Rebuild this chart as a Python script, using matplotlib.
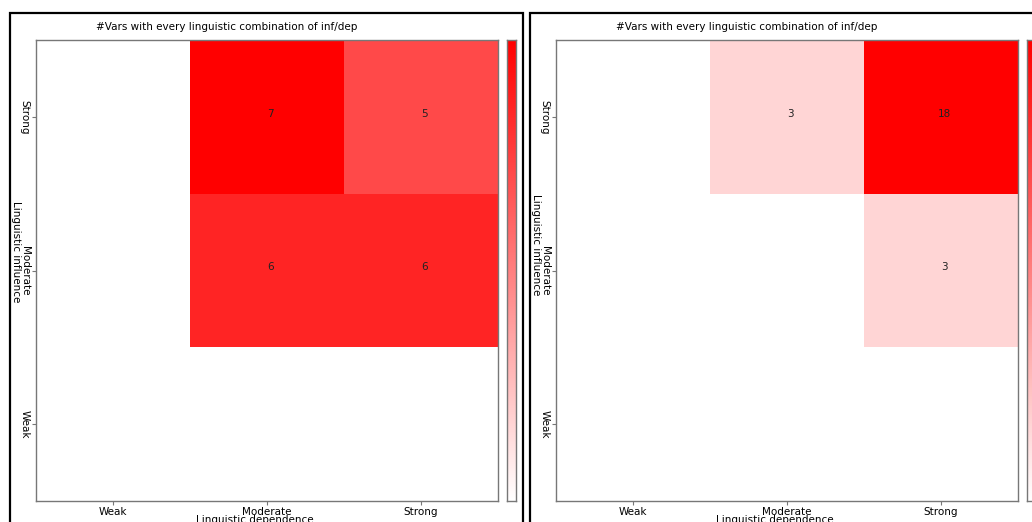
import numpy as np
import matplotlib
matplotlib.use("Agg")
import matplotlib.pyplot as plt
from matplotlib.colors import LinearSegmentedColormap
from matplotlib.patches import Rectangle

levels = ["Weak", "Moderate", "Strong"]
title = "#Vars with every linguistic combination of inf/dep"

# rows: influence Strong, Moderate, Weak ; cols: dependence Weak, Moderate, Strong
counts_a = [[0, 7, 5],
            [0, 6, 6],
            [0, 0, 0]]
counts_b = [[0, 3, 18],
            [0, 0, 3],
            [0, 0, 0]]

W, H = 1032, 522
fig = plt.figure(figsize=(W / 100, H / 100), dpi=100)
cmap = LinearSegmentedColormap.from_list("wr", ["#ffffff", "#ff0000"])
fs = 7.5
grey = "#777777"


def px(x, y, w, h):
    return [x / W, 1 - (y + h) / H, w / W, h / H]


def panel(x0, counts, ylab_y):
    data = np.array(counts, dtype=float)
    vmax = data.max()
    ax = fig.add_axes(px(x0, 40, 462, 461))
    # flip so Strong influence is on top
    ax.pcolormesh(np.arange(4), np.arange(4), data[::-1], cmap=cmap, vmin=0, vmax=vmax)
    for i in range(3):
        for j in range(3):
            v = counts[i][j]
            if v:
                ax.text(j + 0.52, 2.52 - i, str(v), ha="center", va="center",
                        fontsize=fs, color="#222222")
    ax.set_xlim(0, 3)
    ax.set_ylim(0, 3)
    ax.set_xticks(np.arange(3) + 0.5)
    ax.set_xticklabels(levels, fontsize=fs)
    ax.set_yticks(np.arange(3) + 0.5)
    ax.set_yticklabels(levels, fontsize=fs, rotation=-90, va="center")
    ax.tick_params(length=3, width=0.8, color=grey, pad=1)
    ax.tick_params(axis="y", pad=1.5)
    for s in ax.spines.values():
        s.set_color(grey)
        s.set_linewidth(1)

    cax = fig.add_axes(px(x0 + 471, 40, 9, 461))
    grad = np.linspace(0, 1, 256).reshape(-1, 1)
    cax.imshow(grad, cmap=cmap, aspect="auto", origin="lower", extent=[0, 1, 0, 1])
    cax.set_xticks([])
    cax.set_yticks([])
    for s in cax.spines.values():
        s.set_color(grey)
        s.set_linewidth(1)

    fig.text((x0 + 191) / W, 1 - 27 / H, title, ha="center", va="center", fontsize=fs)
    fig.text((x0 + 219) / W, 1 - 520 / H, "Linguistic dependence", ha="center",
             va="center", fontsize=fs)
    fig.text((x0 - 20) / W, 1 - ylab_y / H, "Linguistic influence", ha="center",
             va="center", rotation=-90, fontsize=fs)


panel(36, counts_a, 252)
panel(556, counts_b, 245)

# frames around each panel
for fx in (10, 530):
    fig.add_artist(Rectangle((fx / W, -0.05), 513 / W, 1.05 - 13 / H,
                             transform=fig.transFigure, fill=False,
                             edgecolor="black", linewidth=1.6))

fig.savefig("out.png", dpi=100)
